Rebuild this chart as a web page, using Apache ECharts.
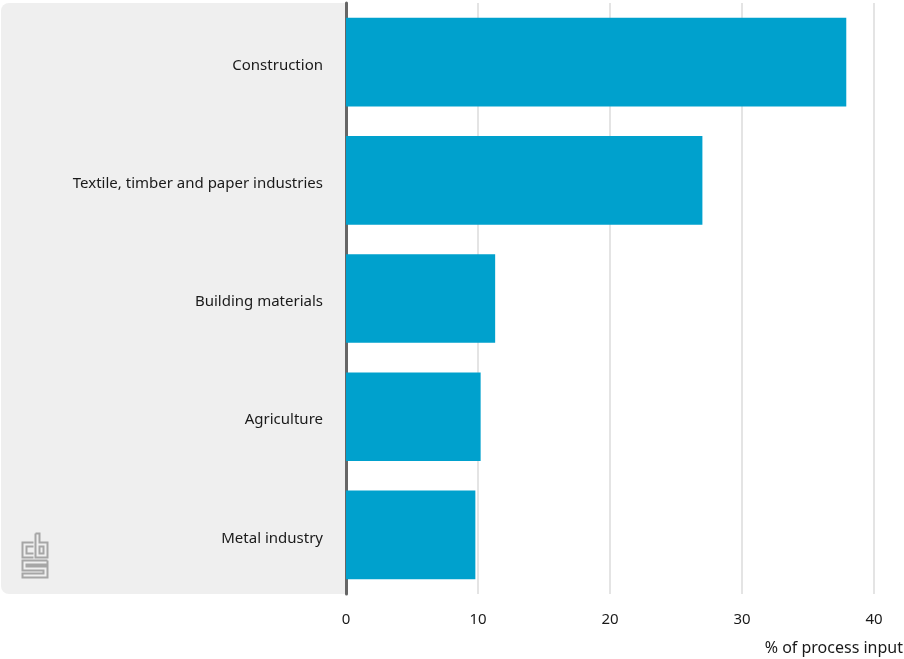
<!DOCTYPE html>
<html>
<head>
<meta charset="utf-8">
<script src="https://cdn.jsdelivr.net/npm/echarts@6/dist/echarts.min.js"></script>
<style>
  html, body { margin: 0; padding: 0; background: #ffffff; }
  #chart { width: 904px; height: 659px; }
</style>
</head>
<body>
<div id="chart"></div>
<script>
// Sectors, top to bottom
const sectors = [
  'Construction',
  'Textile, timber and paper industries',
  'Building materials',
  'Agriculture',
  'Metal industry'
];
// Share of process input, %
const shares = [37.9, 27.0, 11.3, 10.2, 9.8];
const axisTicks = [0, 10, 20, 30, 40];
const axisTitle = '% of process input';

const FONT = '"Noto Sans", "Open Sans", sans-serif';
const chart = echarts.init(document.getElementById('chart'), null, { renderer: 'canvas' });

// Outline-style "cbs" mark drawn as stroked shapes
const logoStroke = { stroke: '#a6a6a6', lineWidth: 2, fill: 'none' };
const logo = {
  type: 'group',
  left: 20,
  top: 531,
  children: [
    // c
    { type: 'polyline', shape: { points: [[12, 9], [1, 9], [1, 24], [12, 24]] }, style: logoStroke },
    { type: 'polyline', shape: { points: [[12, 13], [5, 13], [5, 20], [12, 20]] }, style: logoStroke },
    // b
    { type: 'polyline', shape: { points: [[14, 0], [14, 24], [26, 24], [26, 9], [18, 9], [18, 0], [14, 0]] }, style: logoStroke },
    { type: 'rect', shape: { x: 18, y: 13, width: 4, height: 7 }, style: logoStroke },
    // s
    { type: 'polyline', shape: { points: [[26, 27], [1, 27], [1, 37], [22, 37], [22, 40], [1, 40], [1, 44], [26, 44], [26, 33], [5, 33], [5, 31], [26, 31], [26, 27]] }, style: logoStroke }
  ]
};

chart.setOption({
  backgroundColor: '#ffffff',
  animation: false,
  graphic: [
    {
      type: 'rect',
      z: -10,
      shape: { x: 1, y: 3, width: 345, height: 591, r: [8, 0, 0, 8] },
      style: { fill: '#efefef' },
      silent: true
    },
    logo
  ],
  grid: { left: 346, right: 30, top: 3, bottom: 65, containLabel: false, outerBoundsMode: 'none' },
  xAxis: {
    type: 'value',
    min: axisTicks[0],
    max: axisTicks[axisTicks.length - 1],
    interval: axisTicks[1] - axisTicks[0],
    axisLine: { show: false },
    axisTick: { show: false },
    splitLine: { show: true, lineStyle: { color: '#e4e4e4', width: 2 } },
    axisLabel: { color: '#1a1a1a', fontFamily: FONT, fontSize: 15, margin: 18 },
    name: axisTitle,
    nameLocation: 'end',
    nameGap: 29,
    nameTextStyle: {
      color: '#1a1a1a', fontFamily: FONT, fontSize: 16,
      align: 'right', verticalAlign: 'top', padding: [46, 0, 0, 0]
    }
  },
  yAxis: {
    type: 'category',
    data: sectors,
    inverse: true,
    axisLine: { show: true, lineStyle: { color: '#666666', width: 3 } },
    axisTick: { show: false },
    splitLine: { show: false },
    axisLabel: {
      margin: 23,
      formatter: '{a|{value}}',
      rich: {
        a: { color: '#1a1a1a', fontFamily: FONT, fontSize: 15, lineHeight: 22, verticalAlign: 'bottom' }
      }
    }
  },
  series: [{
    type: 'bar',
    data: shares,
    barCategoryGap: '25%',
    itemStyle: { color: '#00a1cd' },
    z: 1
  }]
});
</script>
</body>
</html>
